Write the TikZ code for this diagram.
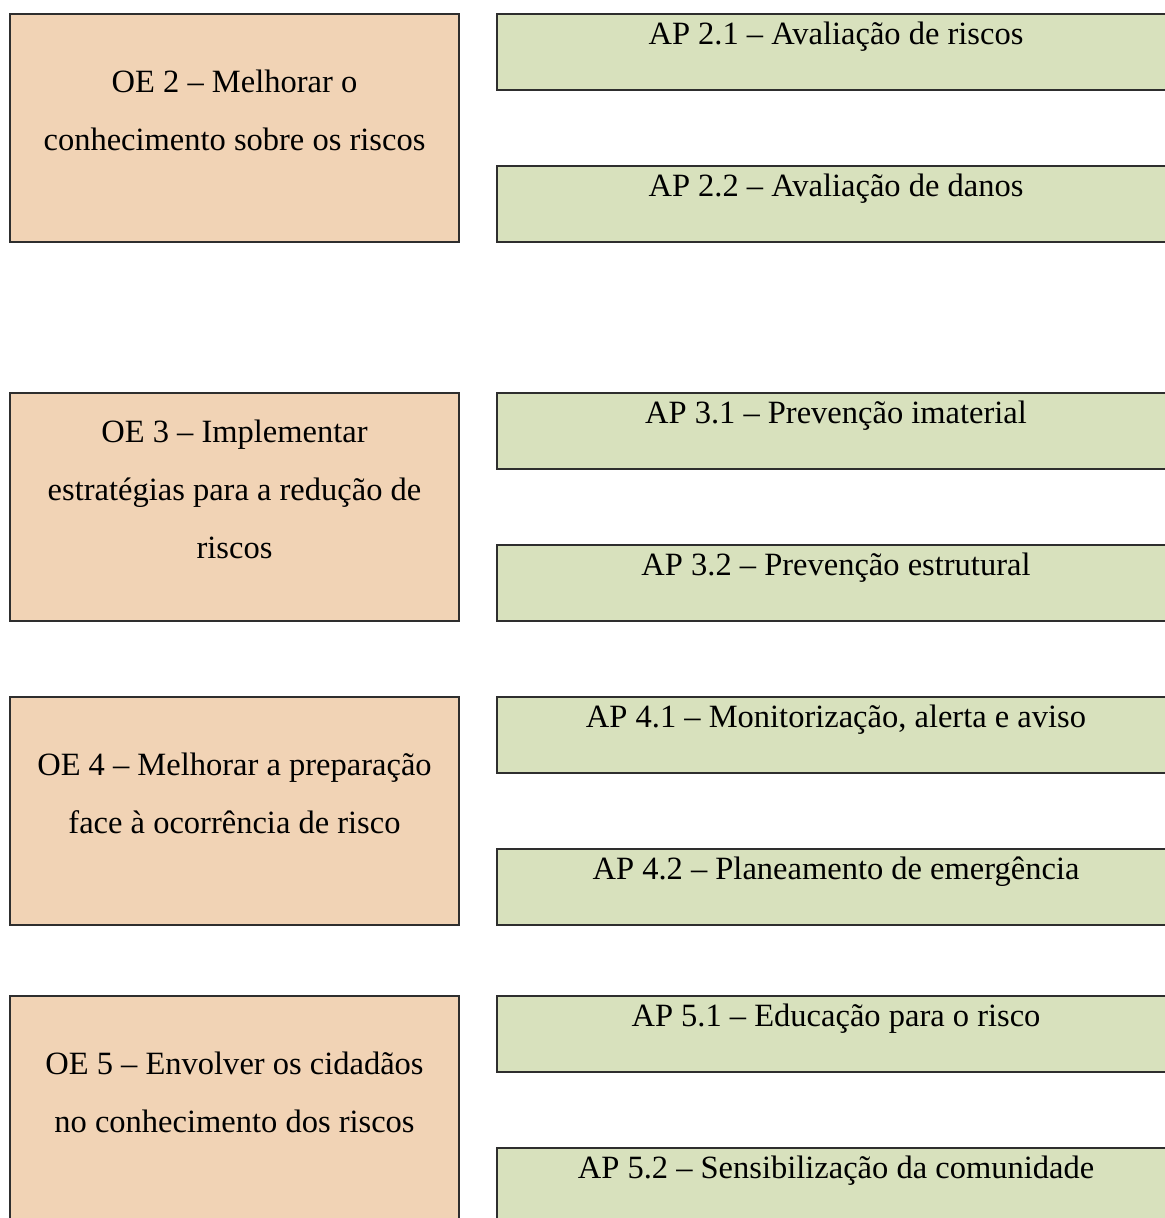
\documentclass[tikz,border=0pt]{standalone}
\usepackage{fontspec}
\setmainfont{Liberation Serif}
\usepackage{xcolor}
\usepackage{tikz}

\definecolor{oefill}{HTML}{F1D3B5}
\definecolor{apfill}{HTML}{D8E1BD}
\definecolor{boxline}{HTML}{2E2E2E}

\tikzset{
	oebox/.style={draw=boxline, line width=1.2pt, fill=oefill, minimum width=8.98cm, minimum height=4.56cm, inner sep=0pt},
	apbox/.style={draw=boxline, line width=1.2pt, fill=apfill, minimum width=13.56cm, minimum height=1.52cm, inner sep=0pt},
	oetext/.style={text width=8.7cm, align=flush center, yshift=0.36cm, font=\fontsize{18.5}{33}\selectfont},
	aptext/.style={anchor=base, yshift=-0.64cm, font=\fontsize{18.5}{33}\selectfont}
}

\begin{document}
\begin{tikzpicture}[x=0.02cm, y=-0.02cm]

\useasboundingbox (0,0) rectangle (1165,1218);
\clip (0,0) rectangle (1165,1218);

% objetivos estrategicos
\node[oebox] (oe2) at (234.5,128) {};
\node[oebox] (oe3) at (234.5,507) {};
\node[oebox] (oe4) at (234.5,811) {};
\node[oebox] (oe5) at (234.5,1110) {};

\node[oetext] (oe2t) at (oe2.center) {OE 2 -- Melhorar o\\conhecimento sobre os riscos};
\node[oetext] (oe3t) at (oe3.center) {OE 3 -- Implementar\\estratégias para a redução de\\riscos};
\node[oetext] (oe4t) at (oe4.center) {OE 4 -- Melhorar a preparação\\face à ocorrência de risco};
\node[oetext] (oe5t) at (oe5.center) {OE 5 -- Envolver os cidadãos\\no conhecimento dos riscos};

% areas prioritarias
\node[apbox] (ap21) at (836,52) {};
\node[apbox] (ap22) at (836,204) {};
\node[apbox] (ap31) at (836,431) {};
\node[apbox] (ap32) at (836,583) {};
\node[apbox] (ap41) at (836,735) {};
\node[apbox] (ap42) at (836,887) {};
\node[apbox] (ap51) at (836,1034) {};
\node[apbox] (ap52) at (836,1186) {};

\node[aptext] (ap21t) at (ap21.north) {AP 2.1 -- Avaliação de riscos};
\node[aptext] (ap22t) at (ap22.north) {AP 2.2 -- Avaliação de danos};
\node[aptext] (ap31t) at (ap31.north) {AP 3.1 -- Prevenção imaterial};
\node[aptext] (ap32t) at (ap32.north) {AP 3.2 -- Prevenção estrutural};
\node[aptext] (ap41t) at (ap41.north) {AP 4.1 -- Monitorização, alerta e aviso};
\node[aptext] (ap42t) at (ap42.north) {AP 4.2 -- Planeamento de emergência};
\node[aptext] (ap51t) at (ap51.north) {AP 5.1 -- Educação para o risco};
\node[aptext] (ap52t) at (ap52.north) {AP 5.2 -- Sensibilização da comunidade};

\end{tikzpicture}
\end{document}
